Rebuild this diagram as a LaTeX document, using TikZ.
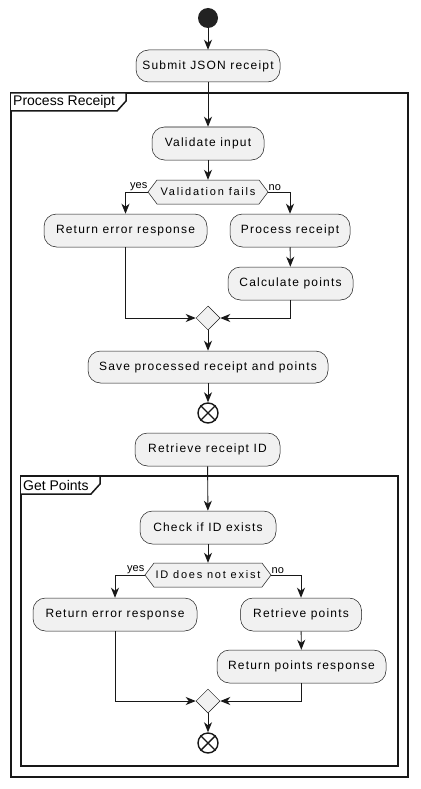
\documentclass[tikz,border=0pt]{standalone}
\usepackage{fontspec}
\setmainfont{Liberation Sans}
\newfontfamily\boxfam[LetterSpace=10]{Liberation Sans}
\newfontfamily\decfam[LetterSpace=16]{Liberation Sans}
\usetikzlibrary{arrows.meta,shapes.geometric,calc}
\definecolor{lineC}{HTML}{181818}
\definecolor{boxC}{HTML}{F1F1F1}
\definecolor{startC}{HTML}{222222}
\tikzset{
  act/.style={draw=lineC, line width=0.5pt, fill=boxC, rounded corners=12.5pt,
    minimum height=33pt, inner sep=0pt, font=\boxfam\fontsize{12}{14}\selectfont, text=black},
  hexst/.style={draw=lineC, line width=0.5pt, fill=boxC},
  dectext/.style={inner sep=0pt, minimum height=24pt, font=\decfam\fontsize{11}{13}\selectfont},
  mergest/.style={diamond, draw=lineC, line width=0.5pt, fill=boxC, minimum width=24pt, minimum height=24pt, inner sep=0pt},
  endst/.style={circle, draw=lineC, line width=1.4pt, fill=white, minimum size=20pt, inner sep=0pt},
  arr/.style={draw=lineC, line width=0.9pt, -{Stealth[length=10pt,width=8pt,inset=3pt]}},
  frame/.style={draw=lineC, line width=1.5pt},
  tabtext/.style={inner sep=0pt, anchor=west, font=\fontsize{14}{16}\selectfont},
  lbl/.style={inner sep=0.5pt, font=\fontsize{11}{13}\selectfont},
}
\begin{document}
\begin{tikzpicture}[x=1pt,y=-1pt]
\useasboundingbox (0,0) rectangle (420,789);
\fill[white] (0,0) rectangle (420,789);
% frames
\draw[frame] (11,93) rectangle (408,777);
\draw[frame, fill=white] (11,93) -- (126,93) -- (126,101) -- (117,111) -- (11,111);
\node[tabtext] (tab1) at (13,102) {Process Receipt};
\draw[frame] (21,476) rectangle (398,766);
\draw[frame, fill=white] (21,476) -- (100,476) -- (100,484) -- (91,494) -- (21,494);
\node[tabtext] (tab2) at (23,485) {Get Points};
% start
\node[circle, fill=startC, minimum size=20pt, inner sep=0pt] (start) at (208,18) {};
\node[act, minimum width=144pt, minimum height=32pt] (submit) at (208,66) {Submit JSON receipt};
\node[act, minimum width=112pt] (validate) at (208,143.5) {Validate input};
% decision 1
\coordinate (d1c) at (208,192);
\draw[hexst] ($(d1c)+(-60,0)$) -- ($(d1c)+(-51,-12)$) -- ($(d1c)+(51,-12)$) -- ($(d1c)+(60,0)$) -- ($(d1c)+(51,12)$) -- ($(d1c)+(-51,12)$) -- cycle;
\node[dectext, minimum width=120pt] (dec1) at (d1c) {Validation fails};
\node[lbl, anchor=south east] (yes1) at (148,191) {yes};
\node[lbl, anchor=south west] (no1) at (268,191) {no};
\node[act, minimum width=163pt] (reterr1) at (125.5,230.5) {Return error response};
\node[act, minimum width=120pt] (proc) at (290,230.5) {Process receipt};
\node[act, minimum width=125pt] (calc) at (290.5,283.5) {Calculate points};
\node[mergest] (merge1) at (208,318) {};
\node[act, minimum width=240pt, minimum height=32pt] (save) at (208,367) {Save processed receipt and points};
\node[endst] (end1) at (208,413) {};
\draw[lineC, line width=1.4pt] (end1.north west) -- (end1.south east) (end1.north east) -- (end1.south west);
\node[act, minimum width=145pt] (retr) at (207.5,449.5) {Retrieve receipt ID};
\node[act, minimum width=136pt] (check) at (208,527.5) {Check if ID exists};
% decision 2
\coordinate (d2c) at (208,575);
\draw[hexst] ($(d2c)+(-63,0)$) -- ($(d2c)+(-54,-12)$) -- ($(d2c)+(54,-12)$) -- ($(d2c)+(63,0)$) -- ($(d2c)+(54,12)$) -- ($(d2c)+(-54,12)$) -- cycle;
\node[dectext, minimum width=126pt] (dec2) at (d2c) {ID does not exist};
\node[lbl, anchor=south east] (yes2) at (145,574) {yes};
\node[lbl, anchor=south west] (no2) at (271,574) {no};
\node[act, minimum width=164pt] (reterr2) at (115,614.5) {Return error response};
\node[act, minimum width=121pt] (retpts) at (301,614.5) {Retrieve points};
\node[act, minimum width=169pt] (retresp) at (301.5,666.5) {Return points response};
\node[mergest] (merge2) at (208,701) {};
\node[endst] (end2) at (208,743) {};
\draw[lineC, line width=1.4pt] (end2.north west) -- (end2.south east) (end2.north east) -- (end2.south west);
% connectors
\draw[arr] (start) -- (submit);
\draw[arr] (submit) -- (validate);
\draw[arr] (validate) -- (dec1);
\draw[arr] (dec1.west) -| (reterr1.north);
\draw[arr] (dec1.east) -| (proc.north);
\draw[arr] (proc) -- (calc);
\draw[arr] (reterr1.south) |- (merge1.west);
\draw[arr] (calc.south) |- (merge1.east);
\draw[arr] (merge1) -- (save);
\draw[arr] (save) -- (end1);
\draw[arr] (retr) -- (check);
\draw[arr] (check) -- (dec2);
\draw[arr] (dec2.west) -| (reterr2.north);
\draw[arr] (dec2.east) -| (retpts.north);
\draw[arr] (retpts) -- (retresp);
\draw[arr] (reterr2.south) |- (merge2.west);
\draw[arr] (retresp.south) |- (merge2.east);
\draw[arr] (merge2) -- (end2);
\end{tikzpicture}
\end{document}
